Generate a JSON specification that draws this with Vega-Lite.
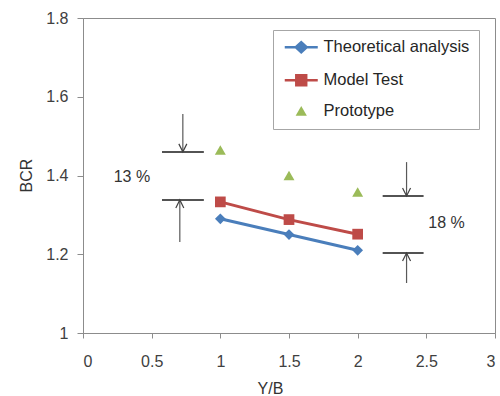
{
  "$schema": "https://vega.github.io/schema/vega-lite/v6.json",
  "width": 412,
  "height": 315,
  "autosize": {"type": "none"},
  "padding": {"left": 83, "top": 18, "right": 5, "bottom": 63},
  "background": "white",
  "config": {
    "view": {"stroke": "#8c8c8c", "strokeWidth": 1},
    "font": "Liberation Sans",
    "axis": {
      "grid": false,
      "domainColor": "#8c8c8c",
      "tickColor": "#8c8c8c",
      "labelFont": "Liberation Sans",
      "labelFontSize": 16,
      "labelColor": "#404040",
      "titleFont": "Liberation Sans",
      "titleFontSize": 16,
      "titleFontWeight": "normal",
      "titleColor": "#333333"
    }
  },
  "datasets": {
    "series": [
      {"yb": 1.0, "bcr": 1.29, "series": "Theoretical analysis"},
      {"yb": 1.5, "bcr": 1.25, "series": "Theoretical analysis"},
      {"yb": 2.0, "bcr": 1.21, "series": "Theoretical analysis"},
      {"yb": 1.0, "bcr": 1.333, "series": "Model Test"},
      {"yb": 1.5, "bcr": 1.288, "series": "Model Test"},
      {"yb": 2.0, "bcr": 1.251, "series": "Model Test"},
      {"yb": 1.0, "bcr": 1.465, "series": "Prototype"},
      {"yb": 1.5, "bcr": 1.4, "series": "Prototype"},
      {"yb": 2.0, "bcr": 1.358, "series": "Prototype"}
    ],
    "limits": [
      {"x1": 0.575, "x2": 0.88, "y": 1.46},
      {"x1": 0.575, "x2": 0.88, "y": 1.338},
      {"x1": 2.182, "x2": 2.48, "y": 1.348},
      {"x1": 2.182, "x2": 2.48, "y": 1.203}
    ],
    "arrows": [
      {"x": 0.727, "from": 1.556, "to": 1.46, "dir": "down"},
      {"x": 0.705, "from": 1.231, "to": 1.338, "dir": "up"},
      {"x": 2.356, "from": 1.434, "to": 1.348, "dir": "down"},
      {"x": 2.356, "from": 1.127, "to": 1.203, "dir": "up"}
    ],
    "notes": [
      {"x": 0.356, "y": 1.396, "text": "13 %"},
      {"x": 2.647, "y": 1.279, "text": "18 %"}
    ]
  },
  "layer": [
    {
      "data": {"name": "series"},
      "transform": [{"filter": "datum.series !== 'Prototype'"}],
      "mark": {"type": "line", "strokeWidth": 3},
      "encoding": {
        "x": {
          "field": "yb", "type": "quantitative",
          "scale": {"domain": [0, 3], "nice": false},
          "axis": {
            "title": "Y/B", "values": [0, 0.5, 1, 1.5, 2, 2.5, 3], "format": "~g",
            "tickSize": 5, "labelPadding": 15,
            "titleX": 187, "titleY": 55, "titleBaseline": "middle"
          }
        },
        "y": {
          "field": "bcr", "type": "quantitative",
          "scale": {"domain": [1, 1.8], "nice": false, "zero": false},
          "axis": {
            "title": "BCR", "values": [1, 1.2, 1.4, 1.6, 1.8], "format": "~g",
            "tickSize": 6, "labelPadding": 9,
            "titleX": -57, "titleY": 157, "titleAngle": -90,
            "titleAlign": "center", "titleBaseline": "middle"
          }
        },
        "color": {
          "field": "series", "type": "nominal",
          "scale": {
            "domain": ["Theoretical analysis", "Model Test", "Prototype"],
            "range": ["#4a7ebb", "#be4b48", "#9bbb59"]
          },
          "legend": {
            "title": null,
            "orient": "none",
            "legendX": 190,
            "legendY": 12,
            "padding": 9,
            "strokeColor": "#a6a6a6",
            "fillColor": "white",
            "symbolSize": 1089,
            "symbolOffset": 11,
            "symbolStrokeWidth": 2.5,
            "labelFont": "Liberation Sans",
            "labelFontSize": 16.5,
            "labelColor": "#262626",
            "labelOffset": 14,
            "rowPadding": 12,
            "labelLimit": 300,
            "encode": {
              "symbols": {
                "update": {
                  "shape": {"signal": "datum.value === 'Theoretical analysis' ? 'M-1,0L1,0M-0.33,0L0,-0.3L0.33,0L0,0.3Z' : datum.value === 'Model Test' ? 'M-1,0L1,0M-0.3,-0.3L0.3,-0.3L0.3,0.3L-0.3,0.3Z' : 'M0,-0.32L0.34,0.27L-0.34,0.27Z'"},
                  "size": {"value": 1089},
                  "fill": {"signal": "scale('color', datum.value)"},
                  "stroke": {"signal": "scale('color', datum.value)"},
                  "strokeWidth": {"signal": "datum.value === 'Prototype' ? 0 : 2.5"},
                  "opacity": {"value": 1}
                }
              }
            }
          }
        },
        "detail": {"field": "series"}
      }
    },
    {
      "data": {"name": "series"},
      "transform": [{"filter": "datum.series === 'Theoretical analysis'"}],
      "mark": {"type": "point", "shape": "diamond", "filled": true, "opacity": 1, "size": 115},
      "encoding": {
        "x": {"field": "yb", "type": "quantitative"},
        "y": {"field": "bcr", "type": "quantitative"},
        "color": {"field": "series", "type": "nominal"}
      }
    },
    {
      "data": {"name": "series"},
      "transform": [{"filter": "datum.series === 'Model Test'"}],
      "mark": {"type": "point", "shape": "square", "filled": true, "opacity": 1, "size": 115},
      "encoding": {
        "x": {"field": "yb", "type": "quantitative"},
        "y": {"field": "bcr", "type": "quantitative"},
        "color": {"field": "series", "type": "nominal"}
      }
    },
    {
      "data": {"name": "series"},
      "transform": [{"filter": "datum.series === 'Prototype'"}],
      "mark": {"type": "point", "shape": "triangle-up", "filled": true, "opacity": 1, "size": 120},
      "encoding": {
        "x": {"field": "yb", "type": "quantitative"},
        "y": {"field": "bcr", "type": "quantitative"},
        "color": {"field": "series", "type": "nominal"}
      }
    },
    {
      "data": {"name": "limits"},
      "mark": {"type": "rule", "color": "#1a1a1a", "strokeWidth": 1.5},
      "encoding": {
        "x": {"field": "x1", "type": "quantitative"},
        "x2": {"field": "x2"},
        "y": {"field": "y", "type": "quantitative"}
      }
    },
    {
      "data": {"name": "arrows"},
      "mark": {"type": "rule", "color": "#595959", "strokeWidth": 1.2},
      "encoding": {
        "x": {"field": "x", "type": "quantitative"},
        "y": {"field": "from", "type": "quantitative"},
        "y2": {"field": "to"}
      }
    },
    {
      "data": {"name": "arrows"},
      "transform": [{"filter": "datum.dir === 'down'"}],
      "mark": {"type": "point", "shape": "M-0.5,-1L0,0L0.5,-1", "size": 256, "filled": false, "stroke": "#404040", "strokeWidth": 1.2, "opacity": 1},
      "encoding": {
        "x": {"field": "x", "type": "quantitative"},
        "y": {"field": "to", "type": "quantitative"}
      }
    },
    {
      "data": {"name": "arrows"},
      "transform": [{"filter": "datum.dir === 'up'"}],
      "mark": {"type": "point", "shape": "M-0.5,1L0,0L0.5,1", "size": 256, "filled": false, "stroke": "#404040", "strokeWidth": 1.2, "opacity": 1},
      "encoding": {
        "x": {"field": "x", "type": "quantitative"},
        "y": {"field": "to", "type": "quantitative"}
      }
    },
    {
      "data": {"name": "notes"},
      "mark": {"type": "text", "font": "Liberation Sans", "fontSize": 16, "color": "#333333", "align": "center", "baseline": "middle"},
      "encoding": {
        "x": {"field": "x", "type": "quantitative"},
        "y": {"field": "y", "type": "quantitative"},
        "text": {"field": "text"}
      }
    }
  ]
}
